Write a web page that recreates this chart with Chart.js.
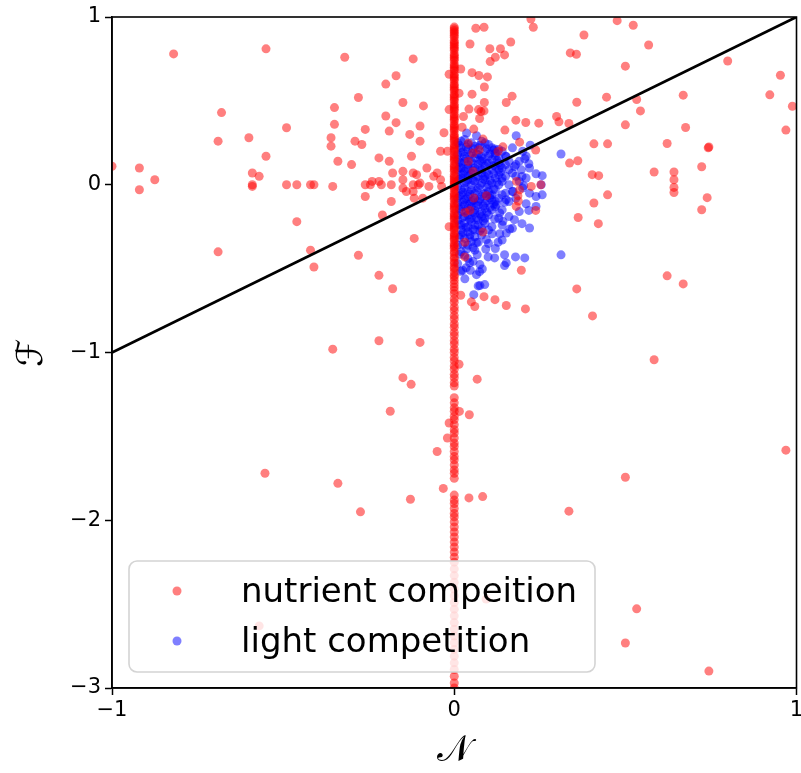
<!DOCTYPE html>
<html>
<head>
<meta charset="utf-8">
<script src="https://cdn.jsdelivr.net/npm/chart.js@4.4.1/dist/chart.umd.min.js"></script>
<style>
  html, body { margin:0; padding:0; background:#fff; }
  canvas { display:block; }
</style>
</head>
<body>
<canvas id="chart" width="801" height="773"></canvas>
<script>
// N–F scatter: nutrient vs light competition
const FONT = 'DejaVu Sans, sans-serif';
const RED = 'rgba(255,0,0,0.5)';
const BLUE = 'rgba(0,0,255,0.5)';

// x / y axis range + ticks
const xTicks = [-1, 0, 1];
const yTicks = [-3, -2, -1, 0, 1];
const seriesNames = ['nutrient compeition', 'light competition'];

// diagonal reference line (N = F)
const lineN = [-1, 1];
const lineF = [-1, 1];

// nutrient competition: points sitting on N = 0 (only F read)
const columnF = [0.94,0.93,0.92,0.91,0.90,0.89,0.88,0.86,0.85,0.84,0.83,0.82,0.81,0.80,0.78,0.77,0.76,0.75,0.74,0.72,
  0.71,0.70,0.69,0.68,0.66,0.65,0.64,0.63,0.62,0.60,0.59,0.58,0.57,0.56,0.54,0.53,0.52,0.51,0.50,0.48,0.47,0.46,0.45,
  0.44,0.42,0.41,0.40,0.39,0.38,0.36,0.35,0.34,0.33,0.32,0.30,0.29,0.28,0.27,0.26,0.24,0.23,0.22,0.21,0.20,0.18,0.17,
  0.16,0.15,0.14,0.12,0.11,0.10,0.09,0.08,0.06,0.05,0.04,0.03,0.02,0.01,0.00,-0.01,-0.02,-0.03,-0.05,-0.06,-0.07,-0.08,
  -0.09,-0.11,-0.12,-0.13,-0.14,-0.15,-0.17,-0.18,-0.19,-0.20,-0.21,-0.23,-0.24,-0.25,-0.26,-0.27,-0.29,-0.30,-0.31,
  -0.32,-0.33,-0.35,-0.36,-0.37,-0.38,-0.40,-0.41,-0.43,-0.44,-0.46,-0.47,-0.49,-0.50,-0.52,-0.54,-0.55,-0.57,-0.59,
  -0.61,-0.63,-0.65,-0.68,-0.70,-0.73,-0.75,-0.78,-0.80,-0.83,-0.85,-0.88,-0.90,-0.93,-0.95,-0.98,-1.00,-1.03,-1.05,
  -1.08,-1.10,-1.13,-1.15,-1.18,-1.20,-1.27,-1.30,-1.33,-1.35,-1.38,-1.40,-1.43,-1.46,-1.48,-1.51,-1.54,-1.56,-1.59,
  -1.62,-1.64,-1.67,-1.70,-1.72,-1.75,-1.85,-1.88,-1.90,-1.93,-1.96,-1.98,-2.01,-2.04,-2.07,-2.10,-2.13,-2.16,-2.19,
  -2.22,-2.25,-2.29,-2.33,-2.37,-2.41,-2.45,-2.49,-2.53,-2.57,-2.61,-2.65,-2.69,-2.73,-2.77,-2.81,-2.85,-2.89,-2.93,
  -2.97,-3.00];

// nutrient competition: scattered points [N, F]
const nutrientPts = [
  [-1.00,0.11],[-0.82,0.78],[-0.55,0.81],[-0.32,0.76],[-0.12,0.75],[-0.17,0.65],[-0.20,0.60],[-0.28,0.52],[-0.35,0.46],
  [-0.15,0.49],[-0.09,0.47],[-0.68,0.43],[-0.20,0.41],[-0.49,0.34],[-0.35,0.36],[-0.17,0.37],[-0.10,0.35],[-0.26,0.33],
  [-0.19,0.32],[-0.13,0.30],[-0.03,0.31],[-0.60,0.28],[-0.36,0.28],[-0.29,0.26],[-0.27,0.24],[-0.10,0.26],[-0.69,0.26],
  [-0.36,0.23],[-0.04,0.20],[-0.02,0.20],[-0.55,0.17],[-0.22,0.16],[-0.125,0.17],[-0.19,0.14],[-0.34,0.14],[-0.30,0.12],
  [-0.92,0.10],[-0.08,0.10],[-0.18,0.07],[-0.15,0.08],[-0.05,0.07],[-0.12,0.07],[-0.11,0.06],[-0.59,0.07],[-0.57,0.05],
  [-0.875,0.03],[-0.15,0.03],[-0.06,0.05],[-0.04,0.03],[-0.24,0.02],[-0.22,0.02],[-0.10,0.01],[-0.12,0.00],[-0.59,0.00],
  [-0.59,-0.01],[-0.49,0.00],[-0.46,0.00],[-0.42,0.00],[-0.41,0.00],[-0.355,-0.01],[-0.26,0.00],[-0.245,0.00],
  [-0.213,0.00],[-0.184,0.00],[-0.105,0.00],[-0.074,-0.01],[-0.037,-0.01],[-0.15,-0.02],[-0.14,-0.04],[-0.12,-0.04],
  [-0.92,-0.03],[-0.26,-0.07],[-0.117,-0.08],[-0.092,-0.08],[-0.184,-0.10],[-0.46,-0.22],[-0.21,-0.18],[-0.015,-0.25],
  [-0.117,-0.32],[-0.69,-0.40],[-0.42,-0.39],[-0.28,-0.42],[-0.41,-0.49],[-0.22,-0.54],[-0.18,-0.62],[-0.22,-0.93],
  [-0.10,-0.94],[-0.355,-0.98],[-0.15,-1.15],[-0.126,-1.19],[-0.187,-1.35],[-0.015,-1.42],[-0.02,-1.51],[-0.05,-1.59],
  [-0.553,-1.72],[-0.34,-1.78],[-0.032,-1.81],[-0.128,-1.875],[-0.274,-1.95],[-0.57,-2.63],[0.093,-2.47],
  [0.224,0.988],[0.476,0.978],[0.523,0.951],[0.063,0.933],[0.087,0.939],[0.231,0.939],[0.379,0.893],[0.165,0.851],
  [0.046,0.839],[0.568,0.833],[0.104,0.811],[0.135,0.811],[0.339,0.786],[0.357,0.778],[0.147,0.774],[0.12,0.76],
  [0.105,0.734],[0.799,0.738],[0.50,0.707],[0.019,0.69],[-0.015,0.659],[0.052,0.668],[0.072,0.651],[0.097,0.643],
  [0.953,0.653],[0.088,0.583],[0.014,0.546],[0.052,0.54],[0.169,0.528],[0.445,0.522],[0.669,0.534],[0.922,0.536],
  [0.533,0.508],[0.358,0.492],[0.152,0.49],[0.088,0.49],[0.988,0.468],[0.071,0.448],[0.087,0.44],[0.043,0.451],
  [0.544,0.44],[-0.015,0.448],[0.027,0.407],[0.074,0.395],[0.299,0.407],[0.306,0.375],[0.18,0.385],[0.209,0.371],
  [0.247,0.367],[0.335,0.365],[0.50,0.357],[0.676,0.341],[0.969,0.326],[0.023,0.343],[0.148,0.326],[0.408,0.244],
  [0.448,0.244],[0.622,0.246],[0.742,0.22],[0.744,0.225],[0.191,0.254],[0.142,0.226],[0.238,0.207],[0.337,0.129],
  [0.361,0.143],[0.584,0.076],[0.642,0.076],[0.723,0.107],[0.642,0.03],[0.642,-0.016],[0.642,-0.046],[0.403,0.06],
  [0.422,0.054],[0.739,-0.077],[0.723,-0.149],[0.408,-0.109],[0.448,-0.06],[0.362,-0.195],[0.421,-0.232],[0.253,0.0],
  [0.182,0.02],[0.187,-0.097],[0.238,-0.153],[0.041,0.139],[0.055,0.079],[0.057,-0.079],[0.094,-0.065],[0.191,-0.03],
  [0.225,-0.01],[0.186,-0.065],[0.181,-0.129],[0.031,-0.165],[0.046,-0.153],[0.084,-0.282],[0.031,-0.343],
  [0.031,-0.43],[0.196,-0.51],[0.078,0.436],[0.057,0.332],[0.084,0.272],[0.128,0.198],[0.041,0.248],[0.055,0.189],
  [0.073,0.208],[0.622,-0.543],[0.669,-0.591],[0.358,-0.621],[0.404,-0.782],[0.019,-0.659],[0.087,-0.667],
  [0.05,-0.698],[0.06,-0.726],[0.119,-0.685],[0.152,-0.72],[0.208,-0.74],[0.584,-1.043],[0.014,-1.07],[0.067,-1.159],
  [0.015,-1.351],[0.044,-1.371],[0.969,-1.582],[0.50,-1.744],[0.043,-1.867],[0.083,-1.859],[0.335,-1.946],
  [0.533,-2.528],[0.50,-2.732],[0.744,-2.899]
];

// light competition points [N, F]
const lightPts = [
  [0.036,0.308],[0.065,0.292],[0.181,0.292],[0.222,0.236],[0.312,0.183],[0.118,0.213],[0.152,0.168],[0.206,0.155],
  [0.218,0.125],[0.176,0.109],[0.196,0.089],[0.239,0.065],[0.257,0.054],[0.198,0.049],[0.203,-0.006],[0.254,0.0],
  [0.239,-0.07],[0.257,-0.06],[0.21,-0.113],[0.239,-0.129],[0.172,-0.04],[0.152,-0.089],[0.123,-0.119],[0.104,-0.079],
  [0.312,-0.418],[0.147,-0.105],[0.218,-0.153],[0.133,-0.168],[0.176,-0.208],[0.198,-0.232],[0.22,-0.258],
  [0.118,-0.204],[0.142,-0.218],[0.162,-0.264],[0.152,-0.288],[0.133,-0.292],[0.111,-0.292],[0.128,-0.343],
  [0.094,-0.327],[0.07,-0.343],[0.092,-0.383],[0.046,-0.298],[0.036,-0.383],[0.067,-0.417],[0.099,-0.43],
  [0.118,-0.436],[0.147,-0.417],[0.179,-0.43],[0.206,-0.436],[0.152,-0.466],[0.147,-0.482],[0.055,-0.457],
  [0.075,-0.476],[0.082,-0.502],[0.047,-0.51],[0.065,-0.536],[0.024,-0.51],[0.031,-0.561],[0.089,-0.595],
  [0.075,-0.601],[0.057,-0.655],[0.019,-0.516],[0.07,-0.603],[0.074,-0.518],
  [0.01,0.25],[0.03,0.27],[0.05,0.25],[0.08,0.26],[0.10,0.24],[0.02,0.22],[0.04,0.21],[0.07,0.22],[0.09,0.20],
  [0.12,0.19],[0.14,0.20],[0.01,0.18],[0.03,0.17],[0.06,0.16],[0.08,0.17],[0.11,0.15],[0.13,0.16],[0.16,0.14],
  [0.02,0.13],[0.04,0.12],[0.07,0.12],[0.09,0.11],[0.12,0.11],[0.14,0.10],[0.18,0.12],[0.01,0.09],[0.03,0.08],
  [0.05,0.07],[0.08,0.07],[0.10,0.06],[0.13,0.06],[0.15,0.05],[0.17,0.07],[0.02,0.04],[0.04,0.03],[0.06,0.02],
  [0.09,0.03],[0.11,0.01],[0.14,0.02],[0.16,0.00],[0.19,0.02],[0.01,-0.01],[0.03,-0.02],[0.05,-0.03],[0.07,-0.02],
  [0.10,-0.04],[0.12,-0.03],[0.15,-0.05],[0.17,-0.04],[0.02,-0.06],[0.04,-0.07],[0.06,-0.08],[0.08,-0.07],
  [0.11,-0.09],[0.13,-0.08],[0.16,-0.10],[0.01,-0.11],[0.03,-0.12],[0.05,-0.13],[0.07,-0.12],[0.09,-0.14],
  [0.12,-0.13],[0.14,-0.15],[0.02,-0.16],[0.04,-0.18],[0.06,-0.17],[0.08,-0.19],[0.10,-0.18],[0.13,-0.20],
  [0.01,-0.21],[0.03,-0.23],[0.05,-0.22],[0.07,-0.24],[0.09,-0.23],[0.11,-0.25],[0.02,-0.27],[0.04,-0.28],
  [0.06,-0.27],[0.08,-0.30],[0.03,-0.32],[0.05,-0.34],[0.01,-0.36],[0.02,-0.40],[0.04,-0.44],[0.01,-0.47],
  [0.02,0.26],[0.04,0.24],[0.06,0.23],[0.09,0.25],[0.11,0.22],[0.13,0.21],[0.02,0.19],[0.05,0.19],[0.07,0.18],
  [0.10,0.17],[0.12,0.17],[0.15,0.17],[0.01,0.15],[0.03,0.14],[0.05,0.14],[0.08,0.14],[0.10,0.13],[0.13,0.13],
  [0.15,0.12],[0.02,0.10],[0.04,0.10],[0.06,0.10],[0.08,0.09],[0.11,0.09],[0.13,0.09],[0.16,0.09],[0.02,0.06],
  [0.04,0.05],[0.07,0.05],[0.09,0.05],[0.12,0.04],[0.14,0.04],[0.01,0.02],[0.03,0.01],[0.05,0.00],[0.08,0.01],
  [0.10,0.00],[0.13,0.00],[0.02,-0.03],[0.04,-0.04],[0.06,-0.05],[0.09,-0.05],[0.11,-0.06],[0.14,-0.06],[0.01,-0.08],
  [0.03,-0.09],[0.05,-0.10],[0.07,-0.10],[0.09,-0.11],[0.12,-0.10],[0.02,-0.13],[0.04,-0.14],[0.06,-0.15],
  [0.08,-0.16],[0.11,-0.15],[0.01,-0.18],[0.03,-0.19],[0.05,-0.20],[0.07,-0.21],[0.09,-0.20],[0.02,-0.24],
  [0.04,-0.25],[0.06,-0.24],[0.08,-0.26],[0.10,-0.27],[0.02,-0.30],[0.06,-0.31],[0.04,-0.36],[0.03,-0.42],
  [0.06,-0.39],[0.20,0.20],[0.17,0.22],[0.21,0.17],[0.19,0.14],[0.22,0.10],[0.18,0.05],[0.21,0.04],[0.20,-0.02],
  [0.18,-0.08],[0.22,-0.05],[0.19,-0.16],[0.16,-0.19],[0.14,-0.24],[0.17,-0.26],[0.12,-0.38],[0.10,-0.35],[0.14,-0.33],
  [0.015,0.235],[0.035,0.225],[0.055,0.215],[0.075,0.235],[0.095,0.215],[0.115,0.205],[0.025,0.195],[0.045,0.175],
  [0.065,0.185],[0.085,0.155],[0.105,0.185],[0.125,0.145],[0.015,0.135],[0.035,0.155],[0.055,0.125],[0.075,0.145],
  [0.095,0.125],[0.115,0.115],[0.135,0.115],[0.015,0.105],[0.035,0.095],[0.055,0.085],[0.075,0.095],[0.095,0.075],
  [0.115,0.065],[0.135,0.075],[0.025,0.065],[0.045,0.055],[0.065,0.045],[0.085,0.035],[0.105,0.025],[0.125,0.015],
  [0.015,0.035],[0.035,0.015],[0.055,0.025],[0.075,-0.005],[0.095,-0.015],[0.115,-0.025],[0.025,-0.045],
  [0.045,-0.055],[0.065,-0.035],[0.085,-0.055],[0.105,-0.065],[0.015,-0.065],[0.035,-0.085],[0.055,-0.095],
  [0.075,-0.085],[0.095,-0.095],[0.115,-0.115],[0.025,-0.105],[0.045,-0.115],[0.065,-0.125],[0.085,-0.125],
  [0.105,-0.135],[0.015,-0.145],[0.035,-0.155],[0.055,-0.165],[0.075,-0.175],[0.095,-0.165],[0.025,-0.195],
  [0.045,-0.205],[0.065,-0.195],[0.085,-0.215],[0.015,-0.235],[0.035,-0.255],[0.055,-0.265],[0.075,-0.275],
  [0.025,-0.285],[0.045,-0.315],[0.065,-0.345],[0.015,-0.315],[0.025,-0.355],[0.055,-0.375],[0.015,-0.415],
  [0.045,-0.465],[0.035,-0.495]
];

const toXY = (p) => ({x:p[0], y:p[1]});
const nutrientData = columnF.map(f => ({x:0, y:f})).concat(nutrientPts.map(toXY));
const lightData = lightPts.map(toXY);
const lineData = lineN.map((n, i) => ({x:n, y:lineF[i]}));
const minus = (v) => String(v).replace('-', '\u2212');

// full box round the plot
const frame = {
  id:'frame',
  afterDatasetsDraw(chart){
    const {ctx, chartArea:a} = chart;
    ctx.save();
    ctx.strokeStyle = '#000'; ctx.lineWidth = 1.6;
    ctx.strokeRect(a.left, a.top, a.right - a.left, a.bottom - a.top);
    ctx.restore();
  }
};

// matplotlib-like legend in the lower left corner
const boxLegend = {
  id:'boxLegend',
  afterDraw(chart){
    const ctx = chart.ctx;
    const x0 = 129, y0 = 561, w = 466, h = 111, r = 8;
    ctx.save();
    ctx.beginPath();
    ctx.roundRect(x0, y0, w, h, r);
    ctx.fillStyle = 'rgba(255,255,255,0.8)';
    ctx.fill();
    ctx.strokeStyle = '#d4d4d4'; ctx.lineWidth = 1.6;
    ctx.stroke();
    const cols = [RED, BLUE];
    seriesNames.forEach((name, i) => {
      const cy = 591 + i * 50;
      ctx.beginPath();
      ctx.arc(177, cy, 4.5, 0, Math.PI * 2);
      ctx.fillStyle = cols[i];
      ctx.fill();
      ctx.fillStyle = '#000';
      ctx.font = '34px ' + FONT;
      ctx.textBaseline = 'alphabetic';
      ctx.fillText(name, 241, cy + 11);
    });
    ctx.restore();
  }
};

const tickFont = {family:FONT, size:21};

new Chart(document.getElementById('chart'), {
  type:'scatter',
  data:{ datasets:[
    {type:'line', label:'N = F', data:lineData, borderColor:'#000', borderWidth:2.8, pointRadius:0, fill:false, order:0},
    {label:seriesNames[0], data:nutrientData, backgroundColor:RED, borderWidth:0, pointRadius:4.5, order:1},
    {label:seriesNames[1], data:lightData, backgroundColor:BLUE, borderWidth:0, pointRadius:4.5, order:2},
  ]},
  options:{
    responsive:false, animation:false,
    layout:{ padding:{top:17, right:1, left:0, bottom:0} },
    plugins:{ legend:{display:false}, tooltip:{enabled:false} },
    scales:{
      x:{
        type:'linear', min:xTicks[0], max:xTicks[xTicks.length-1],
        afterBuildTicks:(s) => { s.ticks = xTicks.map(v => ({value:v})); },
        ticks:{ color:'#000', font:tickFont, padding:3, maxRotation:0, callback:minus },
        grid:{ drawOnChartArea:false, tickLength:7, tickColor:'#000', tickWidth:1.5 },
        border:{ color:'#000', width:1.6 },
        title:{ display:true, text:'\u{1D4A9}', color:'#000', font:{family:FONT, size:36}, padding:{top:0, bottom:0} },
        afterFit:(s) => { s.height = 85; s.paddingLeft = 0; s.paddingRight = 0; }
      },
      y:{
        type:'linear', min:yTicks[0], max:yTicks[yTicks.length-1],
        afterBuildTicks:(s) => { s.ticks = yTicks.map(v => ({value:v})); },
        ticks:{ color:'#000', font:tickFont, padding:4, callback:minus },
        grid:{ drawOnChartArea:false, tickLength:7, tickColor:'#000', tickWidth:1.5 },
        border:{ color:'#000', width:1.6 },
        title:{ display:true, text:'\u2131', color:'#000', font:{family:FONT, size:36}, padding:{top:11, bottom:0} },
        afterFit:(s) => { s.width = 112; s.paddingTop = 0; s.paddingBottom = 0; }
      }
    }
  },
  plugins:[frame, boxLegend]
});
</script>
</body>
</html>
